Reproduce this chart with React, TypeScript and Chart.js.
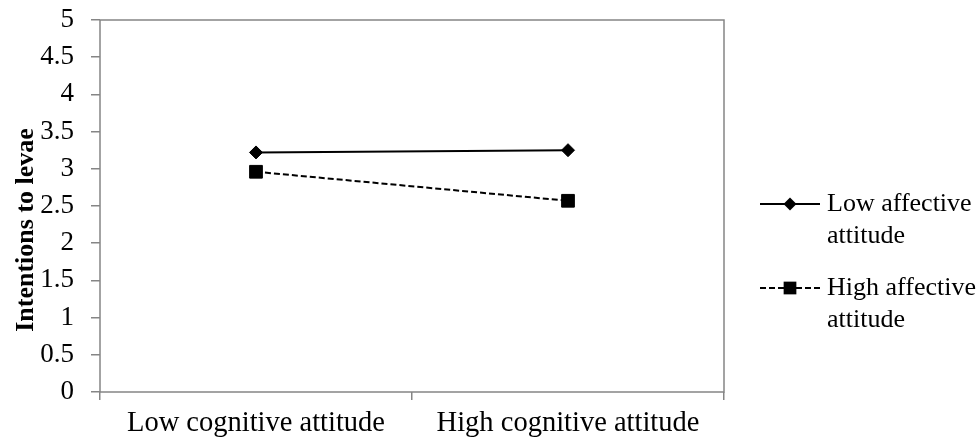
import React, { useEffect, useRef } from "react";
import { Chart, registerables } from "chart.js";

Chart.register(...registerables);

const categories = ["Low cognitive attitude", "High cognitive attitude"];
const lowAffective = [3.22, 3.25];
const highAffective = [2.96, 2.57];
const seriesNames = [["Low affective", "attitude"], ["High affective", "attitude"]];
const yTitle = "Intentions to levae";

const FONT = "'Liberation Serif', 'Times New Roman', serif";

const overlay = {
  id: "overlay",
  afterDraw(chart: any) {
    const { ctx, chartArea } = chart;
    ctx.save();
    ctx.strokeStyle = "#858585";
    ctx.lineWidth = 1.5;
    ctx.strokeRect(chartArea.left, chartArea.top, chartArea.right - chartArea.left, chartArea.bottom - chartArea.top);
    ctx.translate(33, 230);
    ctx.rotate(-Math.PI / 2);
    ctx.fillStyle = "#000";
    ctx.font = `bold 26px ${FONT}`;
    ctx.textAlign = "center";
    ctx.textBaseline = "alphabetic";
    ctx.fillText(yTitle, 0, 0);
    ctx.restore();

    ctx.save();
    const entries = [
      { ds: chart.data.datasets[0], y: 204 },
      { ds: chart.data.datasets[1], y: 288 },
    ];
    entries.forEach((e, i) => {
      const ds = e.ds;
      ctx.save();
      ctx.strokeStyle = "#000";
      ctx.lineWidth = 2;
      ctx.setLineDash(ds.borderDash || []);
      ctx.beginPath();
      ctx.moveTo(760, e.y);
      ctx.lineTo(820, e.y);
      ctx.stroke();
      ctx.restore();
      ctx.save();
      ctx.fillStyle = "#000";
      const r = ds.pointRadius;
      ctx.beginPath();
      if (ds.pointStyle === "rectRot") {
        ctx.moveTo(790 - r, e.y);
        ctx.lineTo(790, e.y - r);
        ctx.lineTo(790 + r, e.y);
        ctx.lineTo(790, e.y + r);
      } else {
        const s = Math.SQRT1_2 * r;
        ctx.rect(790 - s, e.y - s, 2 * s, 2 * s);
      }
      ctx.closePath();
      ctx.fill();
      ctx.restore();
      ctx.fillStyle = "#000";
      ctx.font = `26px ${FONT}`;
      ctx.textAlign = "left";
      ctx.textBaseline = "middle";
      seriesNames[i].forEach((t, j) => {
        ctx.fillText(t, 827, e.y + j * 32);
      });
    });
    ctx.restore();
  },
};

export default function App() {
  const ref = useRef<HTMLCanvasElement>(null);
  useEffect(() => {
    if (!ref.current) return;
    const chart = new Chart(ref.current, {
      type: "line",
      data: {
        labels: categories,
        datasets: [
          {
            label: "Low affective attitude",
            data: lowAffective,
            borderColor: "#000",
            backgroundColor: "#000",
            borderWidth: 2,
            pointStyle: "rectRot",
            pointRadius: 6.5,
            pointBorderWidth: 1,
          },
          {
            label: "High affective attitude",
            data: highAffective,
            borderColor: "#000",
            backgroundColor: "#000",
            borderWidth: 2,
            borderDash: [6, 3],
            pointStyle: "rect",
            pointRadius: 9,
            pointBorderWidth: 1,
          },
        ],
      },
      options: {
        responsive: false,
        animation: false,
        layout: { padding: { top: 20, right: 254, left: 0, bottom: 0 } },
        plugins: { legend: { display: false }, tooltip: { enabled: false } },
        scales: {
          x: {
            offset: true,
            grid: { offset: true, drawOnChartArea: false, drawTicks: true, tickLength: 8, color: "#858585", lineWidth: 1.5 },
            border: { display: false },
            ticks: { color: "#000", font: { family: FONT, size: 28.5 }, padding: 6, maxRotation: 0 },
            afterFit(s: any) {
              s.height = 47;
              s.paddingLeft = 0;
              s.paddingRight = 0;
            },
          },
          y: {
            min: 0,
            max: 5,
            grid: { drawOnChartArea: false, drawTicks: true, tickLength: 9, color: "#858585", lineWidth: 1.5 },
            border: { display: false },
            ticks: {
              stepSize: 0.5,
              color: "#000",
              font: { family: FONT, size: 27 },
              padding: 17,
              callback: (v: any) => String(Number(v)),
            },
            afterFit(s: any) {
              s.width = 100;
              s.paddingTop = 0;
              s.paddingBottom = 0;
            },
          },
        },
      },
      plugins: [overlay],
    });
    return () => chart.destroy();
  }, []);
  return (
    <div style={{ position: "fixed", left: 0, top: 0, width: 978, height: 439, background: "#fff" }}>
      <canvas ref={ref} width={978} height={439} />
    </div>
  );
}
